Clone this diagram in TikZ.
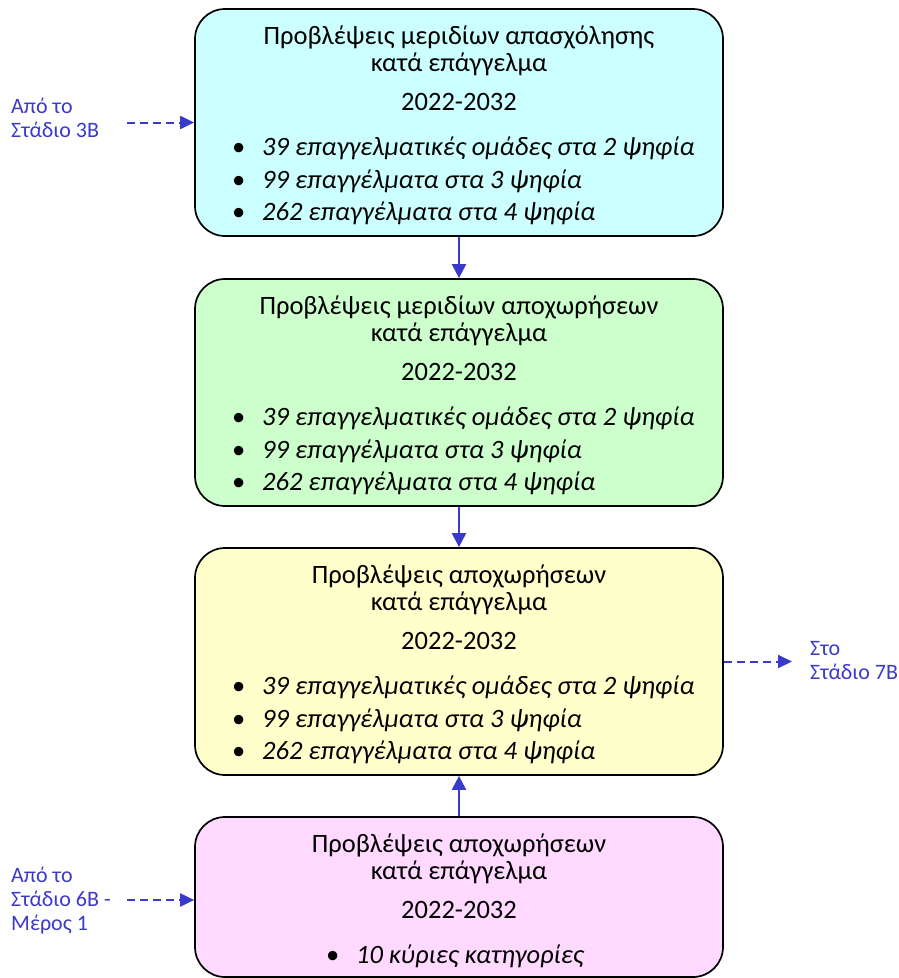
\documentclass[tikz,border=0pt]{standalone}
\usepackage{fontspec}
\setmainfont{Carlito}
\usetikzlibrary{arrows.meta}
\definecolor{arrblue}{HTML}{3A3AC8}
\definecolor{labblue}{HTML}{3A3AC8}
\definecolor{fcyan}{HTML}{CCFFFF}
\definecolor{fgreen}{HTML}{CCFFCC}
\definecolor{fyellow}{HTML}{FFFFCC}
\definecolor{fpink}{HTML}{FFD9FF}
\tikzset{
  box/.style={draw=black, line width=1.7pt, rounded corners=30pt, minimum width=528pt, inner sep=0pt},
  ttl/.style={anchor=base, font=\fontsize{26.5}{30}\selectfont, inner sep=0pt},
  itm/.style={anchor=base west, font=\fontsize{26.5}{30}\selectfont, inner sep=0pt},
  lab/.style={anchor=base west, align=left, text=labblue, font=\fontsize{22}{24}\selectfont, inner sep=0pt},
  solidarr/.style={draw=arrblue, line width=2pt, -{Triangle[length=14pt,width=14pt]}},
  dasharr/.style={draw=arrblue, line width=2pt, dash pattern=on 8pt off 5pt, -{Triangle[length=14pt,width=13pt]}}
}
\newcommand{\bitem}[1]{\makebox[30pt][l]{\textbullet}\textit{#1}}
\begin{document}
\begin{tikzpicture}[x=1pt,y=-1pt]
\useasboundingbox (0,0) rectangle (898,978);
% boxes
\node[box, fill=fcyan, minimum height=227pt] (b1) at (459,122.5) {};
\node[box, fill=fgreen, minimum height=227pt] (b2) at (459,392.5) {};
\node[box, fill=fyellow, minimum height=227pt] (b3) at (459,661.5) {};
\node[box, fill=fpink, minimum height=160pt] (b4) at (459,897) {};
% box 1 text
\node[ttl] (t1a) at (459,44) {Προβλέψεις μεριδίων απασχόλησης};
\node[ttl] (t1b) at (459,71) {κατά επάγγελμα};
\node[ttl] (t1c) at (459,110) {2022-2032};
\node[itm] (i1a) at (232,155) {\bitem{39 επαγγελματικές ομάδες στα 2 ψηφία}};
\node[itm] (i1b) at (232,188) {\bitem{99 επαγγέλματα στα 3 ψηφία}};
\node[itm] (i1c) at (232,220) {\bitem{262 επαγγέλματα στα 4 ψηφία}};
% box 2 text
\node[ttl] (t2a) at (459,314) {Προβλέψεις μεριδίων αποχωρήσεων};
\node[ttl] (t2b) at (459,341) {κατά επάγγελμα};
\node[ttl] (t2c) at (459,380) {2022-2032};
\node[itm] (i2a) at (232,425) {\bitem{39 επαγγελματικές ομάδες στα 2 ψηφία}};
\node[itm] (i2b) at (232,458) {\bitem{99 επαγγέλματα στα 3 ψηφία}};
\node[itm] (i2c) at (232,490) {\bitem{262 επαγγέλματα στα 4 ψηφία}};
% box 3 text
\node[ttl] (t3a) at (459,583) {Προβλέψεις αποχωρήσεων};
\node[ttl] (t3b) at (459,610) {κατά επάγγελμα};
\node[ttl] (t3c) at (459,649) {2022-2032};
\node[itm] (i3a) at (232,694) {\bitem{39 επαγγελματικές ομάδες στα 2 ψηφία}};
\node[itm] (i3b) at (232,727) {\bitem{99 επαγγέλματα στα 3 ψηφία}};
\node[itm] (i3c) at (232,759) {\bitem{262 επαγγέλματα στα 4 ψηφία}};
% box 4 text
\node[ttl] (t4a) at (459,852) {Προβλέψεις αποχωρήσεων};
\node[ttl] (t4b) at (459,879) {κατά επάγγελμα};
\node[ttl] (t4c) at (459,918) {2022-2032};
\node[itm] (i4a) at (326,963) {\bitem{10 κύριες κατηγορίες}};
% side labels
\node[lab] (l1) at (11,137) {Από το\\Στάδιο 3B};
\node[lab] (l2) at (810,679) {Στο\\Στάδιο 7B};
\node[lab] (l3) at (11,930) {Από το\\Στάδιο 6B -\\Μέρος 1};
% connectors
\draw[solidarr] (b1.south) -- (b2.north);
\draw[solidarr] (b2.south) -- (b3.north);
\draw[solidarr] (b4.north) -- (b3.south);
\coordinate (c1) at (127,122.5);
\coordinate (c2) at (792,661.5);
\coordinate (c3) at (127,900);
\draw[dasharr] (c1) -- (b1.west);
\draw[dasharr] (b3.east) -- (c2);
\draw[dasharr] (c3) -- (c3 -| b4.west);
\end{tikzpicture}
\end{document}
